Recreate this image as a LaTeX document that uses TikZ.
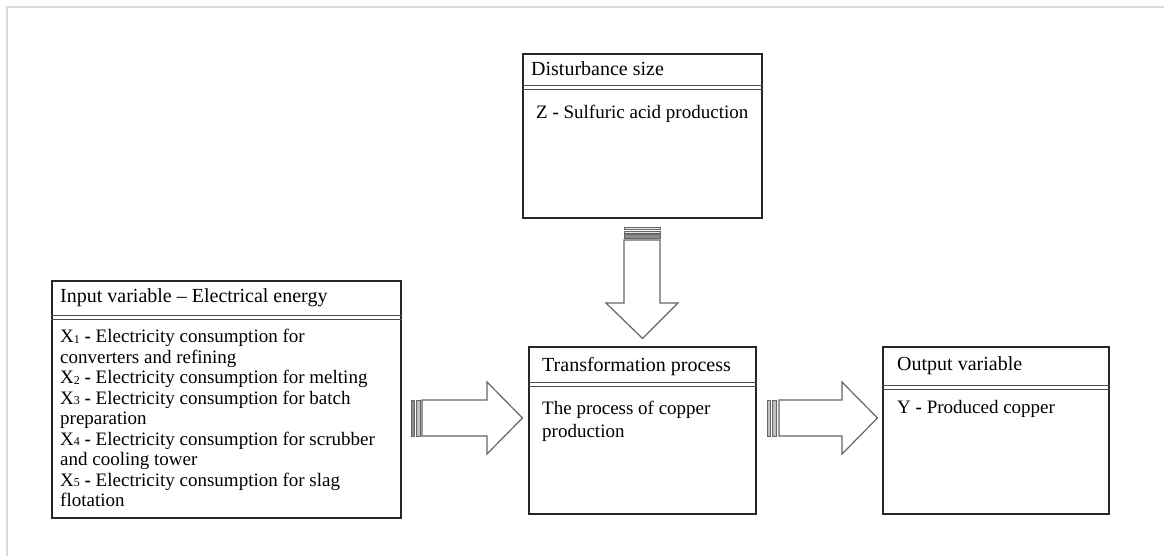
\documentclass[tikz,border=0pt]{standalone}
\usepackage{fontspec}
\setmainfont{Liberation Serif}
\usetikzlibrary{calc}
\newcommand\subn[1]{\raisebox{-0.1ex}{\fontsize{12}{12}\selectfont #1}}
\newcommand\bdash{\textbf{-}}
\tikzset{
  frame/.style={draw=black!85, line width=1.1pt, fill=white, inner sep=0pt},
  sepline/.style={draw=black!70, line width=0.9pt},
  hdr/.style={inner sep=0pt, anchor=west, font=\fontsize{20}{21}\selectfont},
  body/.style={inner sep=0pt, anchor=north west, align=left, font=\fontsize{19}{21}\selectfont},
  barrow/.style={draw=black!60, line width=1.2pt, fill=white, line join=miter},
  stripe/.style={draw=black!60, line width=0.8pt, fill=black!45},
  edge/.style={draw=black!15, line width=2pt}
}
\begin{document}
\begin{tikzpicture}[x=1pt,y=-1pt]
\useasboundingbox (0,0) rectangle (1164,556);
\fill[white] (0,0) rectangle (1164,556);
\draw[edge] (7,556) -- (7,7) -- (1164,7);

% boxes
\node[frame, minimum width=239pt, minimum height=164pt] (dist) at (642.5,136) {};
\node[frame, minimum width=349pt, minimum height=237pt] (inp) at (226.5,399.5) {};
\node[frame, minimum width=227pt, minimum height=167pt] (trans) at (642.5,430.5) {};
\node[frame, minimum width=226pt, minimum height=167pt] (outp) at (996,430.5) {};

% double separator lines
\foreach \b/\d in {dist/32, inp/35, trans/36, outp/39}{
  \draw[sepline] ($(\b.north west)+(0,\d)$) -- ($(\b.north east)+(0,\d)$);
  \draw[sepline] ($(\b.north west)+(0,\d+4)$) -- ($(\b.north east)+(0,\d+4)$);
}

% headers
\node[hdr] (distH) at (531,69) {Disturbance size};
\node[hdr] (inpH) at (60,298) {Input variable -- Electrical energy};
\node[hdr] (transH) at (542,367) {Transformation process};
\node[hdr] (outpH) at (897,366) {Output variable};

% bodies
\node[body] (distB) at (536,105) {Z \bdash{} Sulfuric acid production};
\node[body, font=\fontsize{19}{20.5}\selectfont] (inpB) at (60,329) {%
X\subn{1} \bdash{} Electricity consumption for\\
converters and refining\\
X\subn{2} \bdash{} Electricity consumption for melting\\
X\subn{3} \bdash{} Electricity consumption for batch\\
preparation\\
X\subn{4} \bdash{} Electricity consumption for scrubber\\
and cooling tower\\
X\subn{5} \bdash{} Electricity consumption for slag\\
flotation};
\node[body, font=\fontsize{19}{23}\selectfont] (transB) at (542,401) {The process of copper\\production};
\node[body] (outpB) at (897,400) {Y \bdash{} Produced copper};

% block arrows
\coordinate (a1s) at (411,418);
\coordinate (a2s) at (767,418);
% input -> transformation
\draw[stripe] (411,400) rectangle (414.5,436);
\draw[stripe, fill=black!25] (416.5,400) rectangle (420,436);
\draw[barrow] (422,400) -- (487,400) -- (487,382) -- ($(trans.west |- a1s)+(-6,0)$) -- (487,454) -- (487,436) -- (422,436) -- cycle;
% transformation -> output
\draw[stripe, fill=black!25] (767,400) rectangle (770.5,436);
\draw[stripe, fill=black!25] (772.5,400) rectangle (776,436);
\draw[barrow] (779,400) -- (842,400) -- (842,382) -- ($(outp.west |- a2s)+(-5,0)$) -- (842,454) -- (842,436) -- (779,436) -- cycle;
% disturbance -> transformation
\draw[stripe, fill=black!10] (624,227) rectangle (660,229.5);
\draw[stripe, fill=black!10] (624,231) rectangle (660,233.5);
\draw[stripe] (624,234.5) rectangle (660,238);
\draw[barrow] (624,240) -- (624,303) -- (606,303) -- ($(trans.north)+(0,-8)$) -- (678,303) -- (660,303) -- (660,240) -- cycle;
\end{tikzpicture}
\end{document}
